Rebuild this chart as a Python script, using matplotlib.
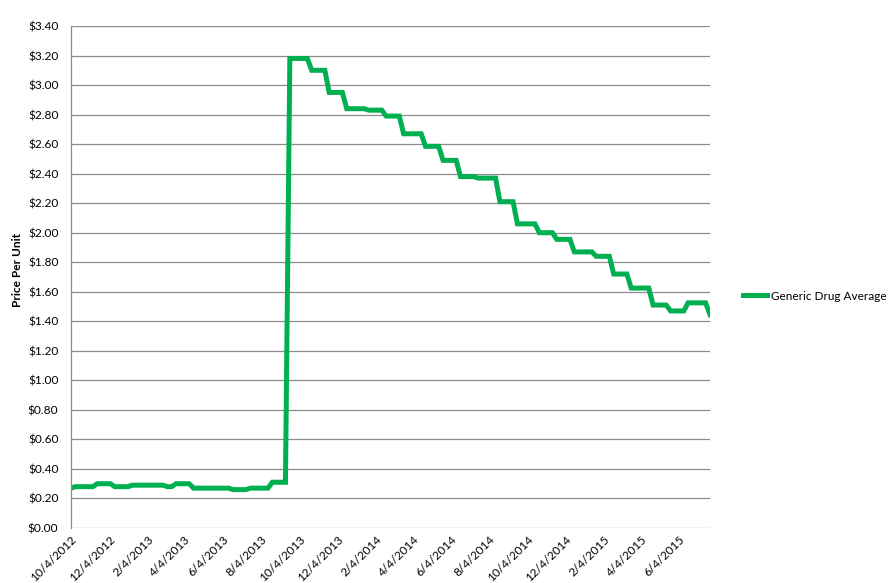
import numpy as np
import pandas as pd
import matplotlib
matplotlib.use("Agg")
import matplotlib.pyplot as plt
import matplotlib.dates as mdates
from matplotlib.ticker import FuncFormatter, MultipleLocator

# Weekly average price per unit, stored as price levels and how many weeks each level held
START_DATE = "2012-10-04"
price_levels = [0.27, 0.28, 0.30, 0.28, 0.29, 0.28, 0.30, 0.27, 0.26, 0.27, 0.31,
                3.18, 3.10, 2.95, 2.84, 2.83, 2.79, 2.67, 2.585, 2.49, 2.38, 2.37,
                2.21, 2.06, 2.00, 1.955, 1.87, 1.84, 1.72, 1.625, 1.51, 1.47, 1.525, 1.445]
level_weeks = [1, 5, 4, 4, 8, 2, 4, 9, 4, 5, 4,
               5, 4, 4, 5, 4, 4, 5, 4, 4, 4, 5,
               4, 5, 4, 4, 5, 4, 4, 5, 4, 4, 5, 1]
series_name = "Generic Drug Average"

prices = np.repeat(price_levels, level_weeks)
dates = pd.date_range(START_DATE, periods=len(prices), freq="7D")

plt.rcParams['font.family'] = ['Lato', 'DejaVu Sans']

fig = plt.figure(figsize=(8.89, 5.83), dpi=100)
ax = fig.add_axes([71 / 889, 55 / 583, 639 / 889, 502 / 583])

line, = ax.plot(dates, prices, color="#00B050", linewidth=3.6,
                solid_joinstyle="miter", label=series_name)

ax.set_ylim(0, 3.4)
ax.set_xlim(dates[0], dates[-1])
ax.yaxis.set_major_locator(MultipleLocator(0.2))
ax.yaxis.set_major_formatter(FuncFormatter(lambda v, p: f"${v:.2f}"))

ax.xaxis.set_major_locator(mdates.MonthLocator(bymonth=[2, 4, 6, 8, 10, 12], bymonthday=4))
ax.xaxis.set_major_formatter(FuncFormatter(
    lambda v, p: (lambda d: f"{d.month}/{d.day}/{d.year}")(mdates.num2date(v))))

ax.grid(axis="y", color="#8c8c8c", linewidth=0.9)
ax.set_axisbelow(True)
for s in ["top", "right", "bottom"]:
    ax.spines[s].set_visible(False)
ax.spines["left"].set_color("#8c8c8c")
ax.spines["left"].set_linewidth(0.9)

ax.tick_params(axis="both", length=0, labelsize=8.6, colors="#000000")
ax.tick_params(axis="y", pad=9)
ax.tick_params(axis="x", pad=4)
for lbl in ax.get_xticklabels():
    lbl.set_rotation(45)
    lbl.set_ha("right")
    lbl.set_rotation_mode("anchor")

ax.set_ylabel("Price Per Unit", fontsize=8.6, fontweight="bold")
ax.yaxis.set_label_coords(-48 / 639, 0.515)

leg = fig.legend(handles=[line], loc="center left", bbox_to_anchor=(739 / 889, 1 - 296 / 583),
                 frameon=False, fontsize=8.5, handlelength=2.1, handletextpad=0.3,
                 borderaxespad=0.0, borderpad=0.3)

fig.savefig("out.png", dpi=100)
